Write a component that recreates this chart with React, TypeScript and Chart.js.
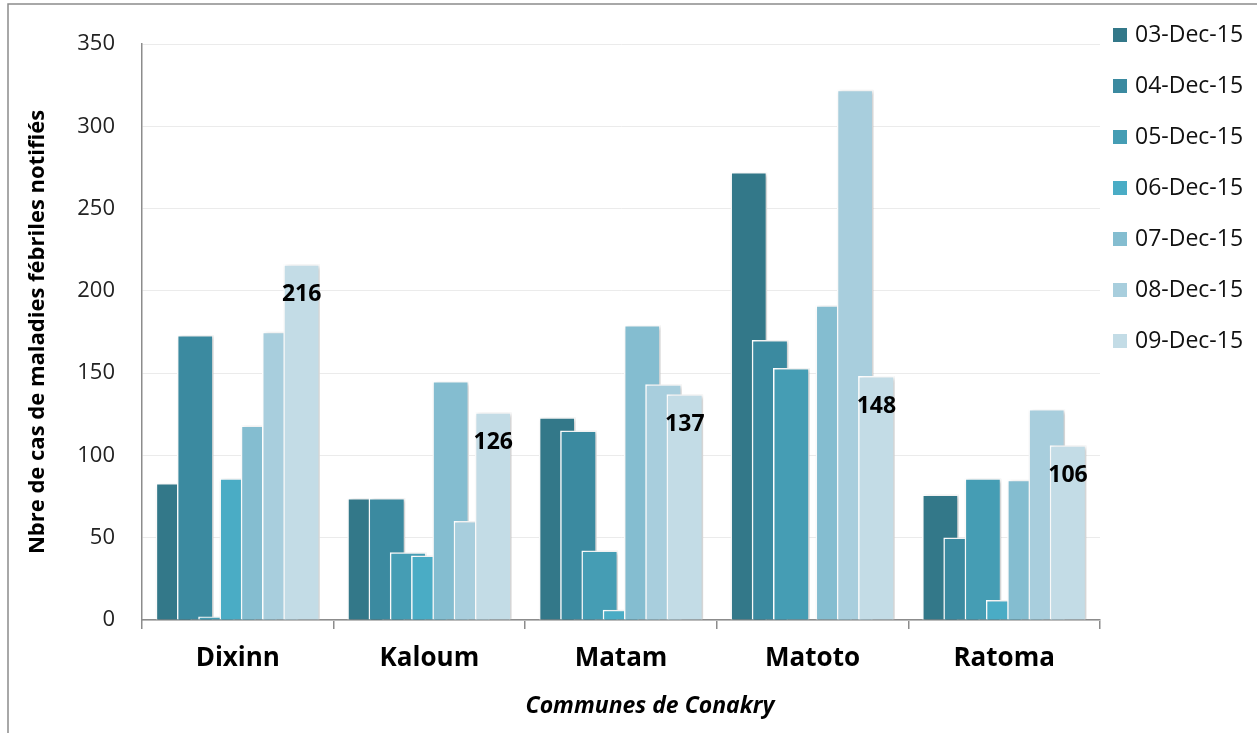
import React, { useEffect, useRef } from "react";
import { Chart, registerables } from "chart.js";

Chart.register(...registerables);

const categories = ["Dixinn", "Kaloum", "Matam", "Matoto", "Ratoma"];
const seriesLabels = ["03-Dec-15", "04-Dec-15", "05-Dec-15", "06-Dec-15", "07-Dec-15", "08-Dec-15", "09-Dec-15"];
const s03 = [83, 74, 123, 272, 76];
const s04 = [173, 74, 115, 170, 50];
const s05 = [2, 41, 42, 153, 86];
const s06 = [86, 39, 6, 0, 12];
const s07 = [118, 145, 179, 191, 85];
const s08 = [175, 60, 143, 322, 128];
const s09 = [216, 126, 137, 148, 106];
const yTicks = [0, 50, 100, 150, 200, 250, 300, 350];
const xTitle = "Communes de Conakry";
const yTitle = "Nbre de cas de maladies fébriles notifiés";
const labelledSeries = 6;

const allSeries = [s03, s04, s05, s06, s07, s08, s09];
const colors = ["#337889", "#3b8aa0", "#459db4", "#4aacc5", "#84bdd0", "#a8cedd", "#c3dce6"];

const FONT = "'Open Sans', 'DejaVu Sans', sans-serif";
const SLOT = 0.111;

export default function App() {
  const ref = useRef<HTMLCanvasElement | null>(null);

  useEffect(() => {
    document.body.style.margin = "0";
    const canvas = ref.current;
    if (!canvas) return;

    const framePlugin = {
      id: "frame",
      beforeDraw(chart: any) {
        const ctx = chart.ctx;
        ctx.save();
        ctx.fillStyle = "#ffffff";
        ctx.fillRect(0, 0, chart.width, chart.height);
        ctx.strokeStyle = "#8c8c8c";
        ctx.lineWidth = 1.5;
        ctx.beginPath();
        ctx.moveTo(8, chart.height + 2);
        ctx.lineTo(8, 4);
        ctx.lineTo(chart.width + 2, 4);
        ctx.stroke();
        ctx.restore();
      },
    };

    const shadowPlugin = {
      id: "barShadow",
      beforeDatasetsDraw(chart: any) {
        const ctx = chart.ctx;
        ctx.save();
        ctx.shadowColor = "rgba(0,0,0,0.22)";
        ctx.shadowBlur = 4;
        ctx.shadowOffsetX = 2;
        ctx.shadowOffsetY = 1;
      },
      afterDatasetsDraw(chart: any) {
        chart.ctx.restore();
      },
    };

    const labelPlugin = {
      id: "valueLabels",
      afterDatasetsDraw(chart: any) {
        const ctx = chart.ctx;
        const meta = chart.getDatasetMeta(labelledSeries);
        ctx.save();
        ctx.font = `bold 23px ${FONT}`;
        ctx.fillStyle = "#000000";
        ctx.textAlign = "center";
        ctx.textBaseline = "middle";
        meta.data.forEach((bar: any, i: number) => {
          ctx.fillText(String(allSeries[labelledSeries][i]), bar.x, bar.y + 30);
        });
        ctx.restore();
      },
    };

    const legendPlugin = {
      id: "customLegend",
      afterDraw(chart: any) {
        const ctx = chart.ctx;
        ctx.save();
        ctx.font = `23px ${FONT}`;
        ctx.textAlign = "left";
        ctx.textBaseline = "middle";
        chart.data.datasets.forEach((ds: any, j: number) => {
          const y = 35 + j * 51;
          ctx.fillStyle = ds.backgroundColor;
          ctx.fillRect(1113, y - 7, 14, 14);
          ctx.fillStyle = "#111111";
          ctx.fillText(ds.label, 1135, y);
        });
        ctx.font = `italic bold 23px ${FONT}`;
        ctx.fillStyle = "#000000";
        ctx.textAlign = "center";
        ctx.fillText(xTitle, 650, 706);
        ctx.restore();
      },
    };

    const chart = new Chart(canvas, {
      type: "bar",
      data: {
        datasets: allSeries.map((vals, j) => ({
          label: seriesLabels[j],
          data: vals.map((v, i) => ({ x: i + (j - 3) * SLOT, y: v })),
          backgroundColor: colors[j],
          borderColor: "#ffffff",
          borderWidth: 1.5,
          barThickness: 36,
          grouped: false,
          order: 7 - j,
        })),
      },
      options: {
        animation: false,
        responsive: false,
        layout: { padding: { left: 0, top: 44, right: 157, bottom: 0 } },
        plugins: { legend: { display: false }, tooltip: { enabled: false } },
        scales: {
          x: {
            type: "linear",
            min: -0.5,
            max: 4.5,
            offset: false,
            afterBuildTicks: (s: any) => {
              const t = [];
              for (let k = -1; k <= 9; k++) t.push({ value: k / 2 });
              s.ticks = t;
            },
            afterFit: (s: any) => {
              s.height = 113;
            },
            ticks: {
              autoSkip: false,
              maxRotation: 0,
              minRotation: 0,
              padding: 14,
              color: "#000000",
              font: { family: FONT, size: 26, weight: "bold" },
              callback: (v: any) => (Number.isInteger(v) ? categories[v] : ""),
            },
            grid: {
              offset: false,
              drawOnChartArea: false,
              tickLength: 9,
              lineWidth: 1.5,
              color: (c: any) => (c.tick && c.tick.value % 1 !== 0 ? "#8c8c8c" : "rgba(0,0,0,0)"),
              tickColor: (c: any) => (c.tick && c.tick.value % 1 !== 0 ? "#8c8c8c" : "rgba(0,0,0,0)"),
            },
            border: { display: true, color: "#8c8c8c", width: 1.5 },
            title: { display: false },
          },
          y: {
            min: 0,
            max: 350,
            afterBuildTicks: (s: any) => {
              s.ticks = yTicks.map((v) => ({ value: v }));
            },
            afterFit: (s: any) => {
              s.width = 142;
            },
            ticks: {
              padding: 27,
              color: "#222222",
              font: { family: FONT, size: 22 },
            },
            grid: { color: "#ebebeb", lineWidth: 1, drawTicks: false },
            border: { display: true, color: "#8c8c8c", width: 1.5 },
            title: {
              display: true,
              text: yTitle,
              color: "#000000",
              font: { family: FONT, size: 22, weight: "bold" },
              padding: { top: 25, bottom: 0 },
            },
          },
        },
      },
      plugins: [framePlugin, shadowPlugin, labelPlugin, legendPlugin],
    } as any);

    return () => chart.destroy();
  }, []);

  return <canvas ref={ref} width={1257} height={733} style={{ display: "block" }} />;
}
